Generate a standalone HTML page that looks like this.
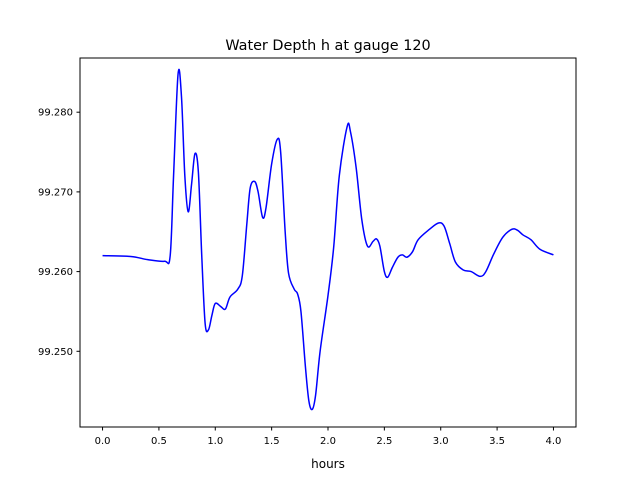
<!DOCTYPE html>
<html><head><meta charset="utf-8"><style>
body{margin:0;background:#fff;font-family:"Liberation Sans","DejaVu Sans",sans-serif}
svg text{font-family:"DejaVu Sans","Liberation Sans",sans-serif}
</style></head><body>
<svg id="chart" width="640" height="480" viewBox="0 0 640 480">
<rect width="640" height="480" fill="#fff"/>
<text x="328" y="50" text-anchor="middle" font-size="14.4">Water Depth h at gauge 120</text>
<g id="plot"></g>
<rect x="80" y="58" width="496" height="369" fill="none" stroke="#000" stroke-width="1"/>
<g id="xt"></g>
<g id="yt"></g>
<text x="328" y="468" text-anchor="middle" font-size="12">hours</text>
</svg>
<script>
const hours=[0,0.25,0.4,0.55,0.6,0.63,0.67,0.7,0.73,0.76,0.79,0.82,0.85,0.88,0.91,0.94,0.97,1.0,1.05,1.09,1.13,1.2,1.24,1.28,1.31,1.35,1.38,1.42,1.45,1.5,1.55,1.58,1.62,1.65,1.7,1.73,1.76,1.8,1.83,1.86,1.89,1.93,2.0,2.05,2.1,2.17,2.2,2.25,2.3,2.35,2.4,2.43,2.46,2.5,2.53,2.57,2.62,2.66,2.7,2.75,2.8,2.9,2.98,3.03,3.08,3.13,3.2,3.27,3.35,3.4,3.47,3.55,3.63,3.68,3.73,3.8,3.88,4.0];
const depth=[99.2620,99.2619,99.2615,99.2613,99.2620,99.272,99.2848,99.282,99.272,99.2675,99.271,99.2748,99.2725,99.262,99.2535,99.2527,99.2545,99.2560,99.2556,99.2553,99.2568,99.2578,99.2595,99.2660,99.2705,99.2713,99.2700,99.2668,99.2680,99.2735,99.2766,99.2750,99.2650,99.2598,99.2578,99.2572,99.2550,99.2480,99.2438,99.2427,99.2445,99.2500,99.2570,99.2630,99.2720,99.2782,99.2775,99.2730,99.2665,99.2632,99.2638,99.2641,99.2632,99.2600,99.2593,99.2605,99.2618,99.2621,99.2618,99.2625,99.2640,99.2653,99.2661,99.2657,99.2635,99.2612,99.2602,99.2600,99.2594,99.2600,99.2622,99.2643,99.2653,99.2652,99.2646,99.2640,99.2628,99.2621];
const xTicks=[0,0.5,1,1.5,2,2.5,3,3.5,4];
const xLabels=["0.0","0.5","1.0","1.5","2.0","2.5","3.0","3.5","4.0"];
const yTicks=[99.25,99.26,99.27,99.28];
const yLabels=["99.250","99.260","99.270","99.280"];
const NS="http://www.w3.org/2000/svg";
const L=80,R=576,T=58,B=427,x0=-0.2,x1=4.2,y0=99.2405,y1=99.2868;
const sx=v=>L+(v-x0)/(x1-x0)*(R-L);
const sy=v=>B-(v-y0)/(y1-y0)*(B-T);
function mk(t,a,p){const e=document.createElementNS(NS,t);for(const k in a)e.setAttribute(k,a[k]);p.appendChild(e);return e;}
const P=hours.map((h,i)=>[sx(h),sy(depth[i])]);
let d="M"+P[0][0]+","+P[0][1];
for(let i=0;i<P.length-1;i++){const p0=P[Math.max(i-1,0)],p1=P[i],p2=P[i+1],p3=P[Math.min(i+2,P.length-1)];
d+=" C"+(p1[0]+(p2[0]-p0[0])/6)+","+(p1[1]+(p2[1]-p0[1])/6)+" "+(p2[0]-(p3[0]-p1[0])/6)+","+(p2[1]-(p3[1]-p1[1])/6)+" "+p2[0]+","+p2[1];}
const line=mk("path",{d:d,fill:"none",stroke:"#0000ff","stroke-width":1.5},document.getElementById("plot"));


const xt=document.getElementById("xt");
xTicks.forEach((v,i)=>{const g=mk("g",{},xt);


mk("line",{x1:sx(v),x2:sx(v),y1:B,y2:B+3.5,stroke:"#000"},g);
const t=mk("text",{x:sx(v),y:B+17,"text-anchor":"middle","font-size":10},g);t.textContent=xLabels[i];});
const yt=document.getElementById("yt");
yTicks.forEach((v,i)=>{const g=mk("g",{},yt);


mk("line",{x1:L-3.5,x2:L,y1:sy(v),y2:sy(v),stroke:"#000"},g);
const t=mk("text",{x:L-7,y:sy(v)+3.5,"text-anchor":"end","font-size":10},g);t.textContent=yLabels[i];});
</script>
</body></html>
